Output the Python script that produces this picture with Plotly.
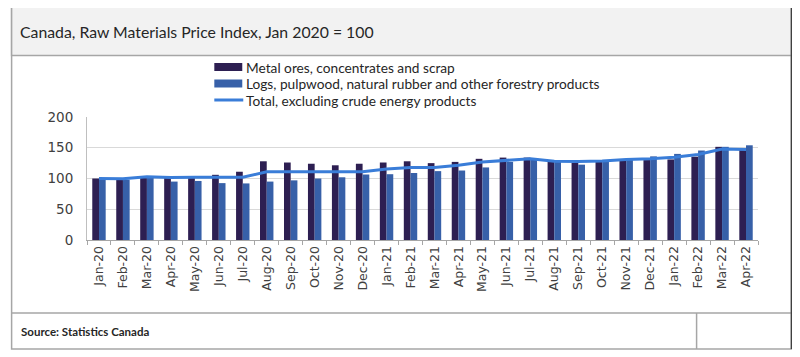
import plotly.graph_objects as go

months = ["Jan-20", "Feb-20", "Mar-20", "Apr-20", "May-20", "Jun-20", "Jul-20", "Aug-20",
          "Sep-20", "Oct-20", "Nov-20", "Dec-20", "Jan-21", "Feb-21", "Mar-21", "Apr-21",
          "May-21", "Jun-21", "Jul-21", "Aug-21", "Sep-21", "Oct-21", "Nov-21", "Dec-21",
          "Jan-22", "Feb-22", "Mar-22", "Apr-22"]
metal = [100, 98, 104, 103, 102, 106, 111, 128, 126, 124, 121.5, 124, 126, 128, 125, 127,
         132, 134, 134, 127, 126, 128.5, 129, 130, 131, 135.5, 151.5, 148]
logs = [100, 98, 102, 95, 96, 92.5, 92, 95, 97, 100, 102, 106.5, 107, 109, 112, 113,
        118, 127, 131, 127, 122.5, 128.5, 130, 136, 140, 145.5, 151.5, 154]
total = [100, 99.5, 103, 101.5, 102, 102, 102, 111, 111, 111, 111, 111, 115.5, 118, 118, 121.5,
         127, 129.5, 132, 128, 127.5, 128.5, 131, 132, 134.5, 139, 148, 147]
names = ["Metal ores, concentrates and scrap",
         "Logs, pulpwood, natural rubber and other forestry products",
         "Total, excluding crude energy products"]
title = "Canada, Raw Materials Price Index, Jan 2020 = 100"
source = "Source: Statistics Canada"
yticks = [0, 50, 100, 150, 200]

C_METAL = "#2d1f52"
C_LOGS = "#3760a8"
C_LINE = "#3a7dd8"

# page offset (body margin) compensation
OFF = 8
W, H = 800 - OFF, 357 - OFF
# plot area in screen coordinates
L, R, T, B = 86.5, 758.5, 117, 240


def px(x):
    return (x - L) / (R - L)


def py(y):
    return (B - y) / (B - T)


fig = go.Figure()
fig.add_trace(go.Bar(x=months, y=metal, name=names[0], marker_color=C_METAL, marker_line_width=0))
fig.add_trace(go.Bar(x=months, y=logs, name=names[1], marker_color=C_LOGS, marker_line_width=0))
fig.add_trace(go.Scatter(x=months, y=total, name=names[2], mode="lines",
                         line=dict(color=C_LINE, width=3)))

shapes = []
shapes.append(dict(type="rect", xref="paper", yref="paper", x0=px(11), x1=px(792), y0=py(7), y1=py(349),
                   line=dict(color="#a6a6a6", width=1.5), fillcolor="rgba(0,0,0,0)", layer="below"))
shapes.append(dict(type="rect", xref="paper", yref="paper", x0=px(11), x1=px(792), y0=py(7), y1=py(55.5),
                   line=dict(color="#a6a6a6", width=1.5), fillcolor="#f2f2f2", layer="below"))
shapes.append(dict(type="line", xref="paper", yref="paper", x0=px(11), x1=px(792), y0=py(313), y1=py(313),
                   line=dict(color="#a6a6a6", width=1.5)))
shapes.append(dict(type="line", xref="paper", yref="paper", x0=px(697), x1=px(697), y0=py(313), y1=py(349),
                   line=dict(color="#a6a6a6", width=1.5)))
shapes.append(dict(type="line", xref="paper", yref="paper", x0=px(792), x1=px(792), y0=py(7), y1=py(349),
                   line=dict(color="#404040", width=1.5)))

rows = [67, 83.5, 100]
colors = [C_METAL, C_LOGS, C_LINE]
annotations = []
for i, (ry, c, n) in enumerate(zip(rows, colors, names)):
    if i < 2:
        shapes.append(dict(type="rect", xref="paper", yref="paper", x0=px(214), x1=px(242),
                           y0=py(ry - 4), y1=py(ry + 4), line=dict(width=0), fillcolor=c))
    else:
        shapes.append(dict(type="line", xref="paper", yref="paper", x0=px(214), x1=px(243),
                           y0=py(ry), y1=py(ry), line=dict(color=c, width=3)))
    annotations.append(dict(text=n, xref="paper", yref="paper", x=px(244), y=py(ry), xanchor="left",
                            yanchor="middle", showarrow=False,
                            font=dict(family="Lato", size=13.7, color="#262626")))

annotations.append(dict(text=title, xref="paper", yref="paper", x=px(17), y=py(32), xanchor="left",
                        yanchor="middle", showarrow=False,
                        font=dict(family="Lato", size=15.8, color="#262626")))
annotations.append(dict(text="<b>" + source + "</b>", xref="paper", yref="paper", x=px(18), y=py(331),
                        xanchor="left", yanchor="middle", showarrow=False,
                        font=dict(family="Lato", size=11.5, color="#262626")))

fig.update_layout(
    width=W, height=H,
    margin=dict(l=L - OFF, r=W - (R - OFF), t=T - OFF, b=H - (B - OFF), pad=0),
    paper_bgcolor="white", plot_bgcolor="white",
    barmode="group", bargap=0.44, bargroupgap=0,
    showlegend=False,
    shapes=shapes, annotations=annotations,
    font=dict(family="Lato", color="#404040"),
    xaxis=dict(type="category", tickangle=-90, tickfont=dict(family="DejaVu Sans", size=12.5, color="#404040"),
               showline=True, linecolor="#a6a6a6", linewidth=1, ticks="outside", tickson="boundaries",
               ticklen=4, tickcolor="#a6a6a6", showgrid=False, fixedrange=True),
    yaxis=dict(range=[0, 200], tickvals=yticks, tickfont=dict(family="DejaVu Sans", size=13.5, color="#404040"),
               showline=True, linecolor="#bfbfbf", linewidth=1, gridcolor="#d9d9d9", gridwidth=1,
               zeroline=False, ticks="", ticklabelstandoff=10, fixedrange=True),
)

fig.write_html("out.html")
